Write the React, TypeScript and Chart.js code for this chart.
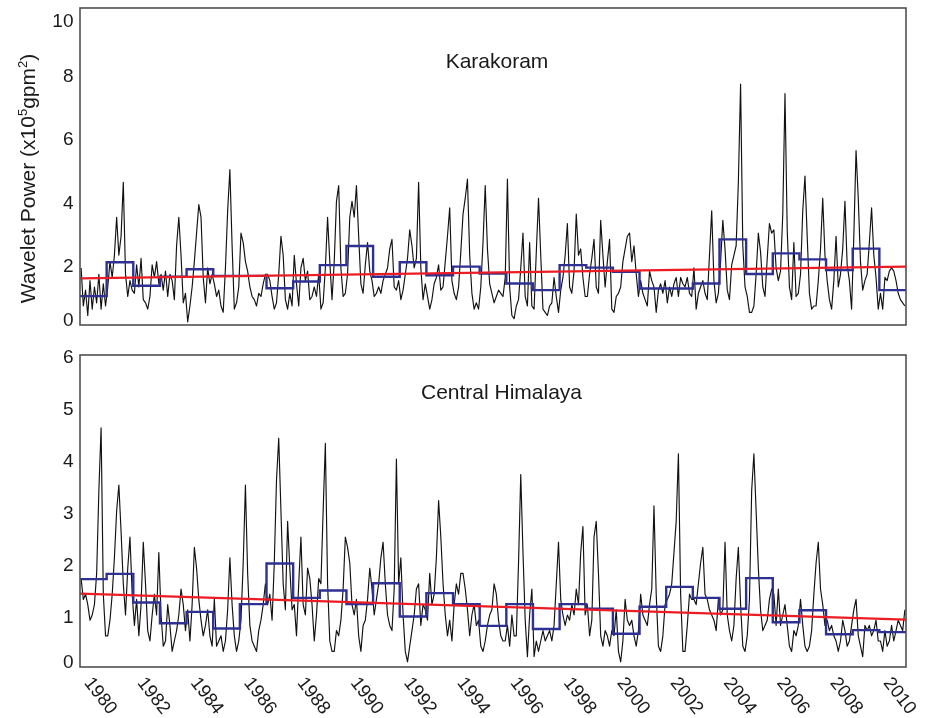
import React, { useEffect, useRef } from "react";
import { Chart, registerables } from "chart.js";

Chart.register(...registerables);

const FONT = "'Liberation Sans', Arial, Helvetica, sans-serif";

// ---------- data ----------
const YEARS = [
  1980, 1981, 1982, 1983, 1984, 1985, 1986, 1987, 1988, 1989, 1990,
  1991, 1992, 1993, 1994, 1995, 1996, 1997, 1998, 1999, 2000,
  2001, 2002, 2003, 2004, 2005, 2006, 2007, 2008, 2009, 2010,
];
const X_TICK_YEARS = [1980, 1982, 1984, 1986, 1988, 1990, 1992, 1994, 1996, 1998, 2000, 2002, 2004, 2006, 2008, 2010];
const X_TICK_LABELS = ["1980", "1982", "1984", "1986", "1988", "1990", "1992", "1994", "1996", "1998", "2000", "2002", "2004", "2006", "2008", "2010"];
const KARAKORAM_Y_TICKS = [0, 2, 4, 6, 8, 10];
const HIMALAYA_Y_TICKS = [0, 1, 2, 3, 4, 5, 6];
const TREND_YEARS = [1980, 2011];

// monthly wavelet power, one row per year (Jan..Dec)
const KARAKORAM_MONTHLY = [
  [1.8, 0.6, 1.1, 0.3, 1.4, 0.5, 1.2, 0.7, 1.6, 0.5, 1.3, 0.6],
  [1.2, 2.0, 1.5, 2.2, 3.4, 2.2, 2.8, 4.5, 1.6, 0.9, 1.4, 1.1],
  [1.0, 1.9, 1.2, 2.1, 0.8, 0.7, 0.5, 0.9, 1.9, 1.5, 2.0, 1.3],
  [1.6, 1.1, 1.7, 0.9, 1.6, 1.4, 0.8, 2.5, 3.4, 2.2, 0.7, 1.0],
  [0.1, 0.6, 1.2, 2.0, 2.9, 3.8, 3.4, 1.5, 0.7, 1.8, 1.3, 1.6],
  [1.3, 0.9, 1.1, 0.6, 0.4, 1.8, 3.6, 4.9, 2.5, 0.5, 0.7, 1.2],
  [2.9, 2.6, 2.0, 1.7, 1.2, 0.9, 0.8, 0.6, 1.0, 0.9, 1.3, 1.6],
  [1.6, 1.4, 0.9, 0.5, 0.7, 1.6, 2.8, 2.2, 0.8, 0.5, 1.0, 0.6],
  [2.2, 1.3, 0.6, 1.8, 2.1, 1.4, 1.7, 0.8, 0.9, 1.2, 0.9, 1.6],
  [0.5, 0.7, 1.8, 3.4, 2.0, 0.8, 2.0, 3.9, 4.4, 1.8, 0.9, 1.0],
  [1.6, 3.4, 3.9, 3.4, 4.4, 2.8, 1.3, 1.0, 1.9, 2.6, 1.7, 1.4],
  [0.9, 1.0, 1.2, 1.0, 1.4, 1.6, 1.8, 2.4, 2.7, 1.2, 1.1, 1.4],
  [0.8, 1.1, 1.6, 2.1, 3.0, 2.5, 1.8, 2.1, 4.5, 1.8, 0.8, 1.3],
  [0.9, 0.5, 0.8, 1.3, 1.5, 1.9, 1.1, 1.2, 2.0, 2.8, 3.7, 1.4],
  [1.0, 0.8, 1.2, 2.3, 3.5, 4.0, 4.6, 2.2, 1.0, 0.5, 0.7, 0.5],
  [1.2, 2.6, 4.4, 2.4, 1.3, 1.0, 0.7, 0.9, 1.1, 1.0, 0.9, 1.5],
  [4.6, 1.2, 0.3, 0.2, 0.6, 0.8, 1.8, 2.9, 0.9, 0.6, 2.6, 0.6],
  [0.5, 2.3, 4.0, 2.2, 0.5, 0.4, 0.3, 0.6, 0.7, 1.5, 0.9, 0.4],
  [1.1, 1.5, 2.2, 3.2, 1.2, 1.0, 1.7, 3.5, 2.2, 2.4, 1.5, 0.9],
  [0.9, 1.6, 2.1, 2.7, 1.2, 1.0, 3.3, 2.2, 1.2, 2.0, 2.7, 0.5],
  [0.4, 0.9, 1.0, 1.2, 2.0, 2.4, 2.8, 2.9, 2.0, 2.5, 1.6, 0.9],
  [1.4, 1.0, 0.8, 0.6, 1.7, 1.4, 1.2, 0.4, 1.1, 1.3, 1.0, 1.4],
  [0.7, 1.2, 0.9, 1.3, 1.5, 0.9, 1.5, 1.3, 1.2, 1.5, 1.0, 0.9],
  [1.8, 0.5, 1.0, 1.2, 1.4, 1.0, 0.8, 2.2, 3.6, 1.4, 0.7, 1.0],
  [2.0, 3.3, 2.4, 1.1, 0.8, 1.9, 2.2, 2.5, 4.5, 7.6, 2.5, 1.2],
  [0.9, 0.4, 0.4, 0.6, 1.6, 2.9, 2.3, 1.2, 0.9, 2.1, 3.2, 2.9],
  [3.0, 1.8, 1.4, 1.7, 3.5, 7.3, 3.0, 1.2, 0.8, 2.6, 0.9, 1.0],
  [1.6, 3.6, 4.7, 2.8, 1.0, 0.5, 0.6, 0.6, 1.4, 2.4, 4.0, 2.2],
  [1.4, 0.8, 0.5, 1.4, 2.8, 1.2, 1.6, 2.4, 3.9, 1.9, 1.4, 0.5],
  [2.8, 5.5, 4.0, 2.0, 1.1, 1.4, 1.6, 2.6, 3.7, 2.2, 1.5, 0.5],
  [1.0, 0.5, 1.5, 1.4, 1.7, 1.8, 1.7, 1.4, 1.0, 0.8, 0.7, 0.6],
];
const KARAKORAM_ANNUAL = [
  0.91, 1.98, 1.24, 1.52, 1.76, 1.55, 1.55, 1.16, 1.37, 1.89, 2.49,
  1.52, 1.98, 1.57, 1.84, 1.62, 1.31, 1.10, 1.89, 1.81, 1.68,
  1.15, 1.15, 1.31, 2.70, 1.61, 2.26, 2.07, 1.73, 2.41, 1.10,
];
const KARAKORAM_TREND = [1.47, 1.84];

const HIMALAYA_MONTHLY = [
  [1.7, 1.3, 1.4, 1.2, 0.9, 1.0, 1.2, 1.8, 3.4, 4.6, 1.4, 0.6],
  [0.6, 0.9, 1.4, 2.1, 3.0, 3.5, 2.6, 1.6, 1.0, 1.9, 2.5, 1.4],
  [0.8, 1.3, 0.6, 1.2, 2.4, 1.6, 0.7, 0.5, 1.0, 1.4, 1.0, 2.2],
  [1.0, 0.4, 0.5, 1.2, 0.8, 0.3, 0.5, 0.7, 1.0, 1.5, 1.2, 0.7],
  [1.1, 0.5, 1.2, 2.3, 1.9, 1.3, 0.9, 0.6, 0.8, 1.1, 0.6, 0.4],
  [1.3, 0.4, 0.5, 0.6, 0.3, 0.5, 1.1, 2.1, 1.2, 0.6, 0.3, 0.5],
  [0.9, 2.0, 3.5, 1.8, 0.8, 0.5, 0.4, 0.3, 0.7, 0.9, 1.2, 1.6],
  [1.2, 1.4, 0.9, 2.0, 3.6, 4.4, 3.0, 1.6, 1.1, 2.8, 1.9, 1.1],
  [1.2, 0.6, 1.6, 2.5, 1.2, 1.0, 1.9, 1.7, 1.2, 0.5, 1.0, 1.7],
  [1.6, 3.0, 4.3, 1.6, 0.5, 0.3, 0.3, 0.7, 0.6, 0.9, 1.5, 2.5],
  [2.3, 2.0, 1.2, 1.0, 1.3, 0.6, 0.3, 0.8, 0.9, 1.3, 1.9, 1.5],
  [1.0, 1.3, 1.6, 2.1, 2.4, 1.6, 1.0, 0.8, 0.7, 1.5, 4.0, 1.6],
  [2.1, 1.0, 0.3, 0.1, 0.4, 0.7, 1.0, 1.5, 1.6, 0.8, 1.2, 1.1],
  [0.9, 1.8, 1.2, 1.4, 2.1, 3.2, 2.5, 1.6, 1.0, 0.6, 0.9, 0.5],
  [1.2, 1.6, 1.4, 1.8, 1.8, 1.5, 1.1, 0.6, 1.0, 1.2, 0.8, 0.9],
  [0.4, 0.3, 0.5, 0.8, 1.0, 1.1, 1.6, 1.4, 0.9, 0.6, 0.5, 0.5],
  [0.8, 0.4, 1.0, 0.6, 0.6, 2.0, 3.7, 2.2, 0.9, 0.2, 1.0, 1.5],
  [0.2, 0.5, 0.3, 0.5, 0.7, 0.5, 0.6, 0.7, 0.5, 0.8, 1.6, 2.4],
  [1.3, 1.0, 0.8, 1.0, 0.9, 1.2, 1.0, 1.5, 1.2, 2.2, 2.7, 1.0],
  [1.2, 0.6, 0.9, 2.5, 2.8, 1.8, 0.6, 0.4, 0.7, 0.6, 0.4, 0.7],
  [0.6, 1.1, 0.3, 0.1, 0.5, 1.3, 0.9, 0.8, 0.9, 0.6, 0.4, 0.7],
  [1.4, 1.0, 0.9, 0.8, 1.2, 1.5, 3.1, 1.4, 0.4, 0.3, 0.6, 1.2],
  [1.3, 1.4, 1.6, 2.2, 2.8, 4.1, 1.4, 0.3, 0.3, 0.8, 1.4, 1.3],
  [1.3, 1.2, 1.6, 2.0, 2.3, 1.4, 1.3, 1.1, 1.0, 0.9, 0.7, 1.3],
  [1.0, 1.1, 2.4, 1.0, 0.7, 0.5, 0.8, 1.7, 2.3, 1.2, 0.4, 0.3],
  [0.6, 1.3, 3.4, 4.1, 3.0, 1.9, 1.1, 0.7, 0.8, 0.9, 1.3, 1.5],
  [1.4, 0.8, 1.5, 0.8, 1.0, 1.2, 0.8, 0.4, 0.3, 0.7, 0.6, 0.8],
  [1.3, 0.8, 0.4, 0.3, 0.4, 0.7, 1.4, 2.0, 2.4, 1.5, 1.2, 0.8],
  [0.9, 0.7, 0.8, 0.6, 0.5, 0.3, 0.5, 0.9, 0.7, 0.4, 0.5, 0.8],
  [1.1, 1.3, 0.6, 0.4, 0.2, 0.8, 0.7, 0.8, 0.6, 0.7, 0.9, 0.5],
  [0.5, 0.3, 0.7, 0.4, 0.5, 0.8, 0.5, 0.7, 0.9, 0.8, 0.7, 1.1],
];
const HIMALAYA_ANNUAL = [
  1.69, 1.79, 1.24, 0.84, 1.06, 0.74, 1.21, 1.99, 1.33, 1.47, 1.21,
  1.61, 0.97, 1.42, 1.21, 0.79, 1.21, 0.73, 1.21, 1.12, 0.64,
  1.16, 1.54, 1.33, 1.12, 1.71, 0.86, 1.09, 0.63, 0.71, 0.67,
];
const HIMALAYA_TREND = [1.41, 0.91];

// ---------- styling ----------
const BLACK = "#111111";
const BLUE = "#2e3192";
const RED = "#ec1c24";
const FRAME = "#505050";

function monthlyPoints(rows: number[][]) {
  const pts: { x: number; y: number }[] = [];
  rows.forEach((row, i) =>
    row.forEach((v, m) => pts.push({ x: YEARS[i] + (m + 0.5) / 12, y: v }))
  );
  return pts;
}
function annualSteps(vals: number[]) {
  const pts = vals.map((v, i) => ({ x: YEARS[i], y: v }));
  pts.push({ x: YEARS[YEARS.length - 1] + 1, y: vals[vals.length - 1] });
  return pts;
}
function trendPoints(vals: number[]) {
  return vals.map((v, i) => ({ x: TREND_YEARS[i], y: v }));
}

type PanelOpts = {
  title: string;
  titleDx: number;
  titleBaseline: number;
  yTicks: number[];
  labelDy: number;
  labelMinTop: number;
  labelMaxBottom: number;
  yTitle?: boolean;
  xLabels?: boolean;
};

function decorPlugin(o: PanelOpts) {
  return {
    id: "panelDecor",
    afterDatasetsDraw(chart: any) {
      const { ctx, chartArea: a, scales } = chart;
      ctx.save();
      // frame
      ctx.strokeStyle = FRAME;
      ctx.lineWidth = 1.6;
      ctx.strokeRect(a.left, a.top, a.right - a.left, a.bottom - a.top);

      // y tick labels
      ctx.fillStyle = "#1a1a1a";
      ctx.font = `19px ${FONT}`;
      ctx.textAlign = "right";
      ctx.textBaseline = "alphabetic";
      o.yTicks.forEach((v) => {
        let y = scales.y.getPixelForValue(v) + o.labelDy;
        y = Math.max(a.top + o.labelMinTop, Math.min(a.bottom + o.labelMaxBottom, y));
        ctx.fillText(String(v), a.left - 6.5, y);
      });

      // panel title
      ctx.font = `21px ${FONT}`;
      ctx.textAlign = "center";
      ctx.fillText(o.title, (a.left + a.right) / 2 + o.titleDx, a.top + o.titleBaseline);

      // x tick labels (rotated clockwise)
      if (o.xLabels) {
        ctx.font = `18.5px ${FONT}`;
        ctx.textAlign = "left";
        ctx.textBaseline = "alphabetic";
        X_TICK_YEARS.forEach((yr, i) => {
          const x = scales.x.getPixelForValue(yr);
          ctx.save();
          ctx.translate(x + 3.5, a.bottom + 16);
          ctx.rotate((52 * Math.PI) / 180);
          ctx.fillText(X_TICK_LABELS[i], 0, 0);
          ctx.restore();
        });
      }

      // y axis title with superscripts
      if (o.yTitle) {
        const parts = [
          { t: "Wavelet Power (x10", sup: false },
          { t: "5", sup: true },
          { t: "gpm", sup: false },
          { t: "2", sup: true },
          { t: ")", sup: false },
        ];
        const big = `21px ${FONT}`;
        const small = `13px ${FONT}`;
        let total = 0;
        parts.forEach((p) => {
          ctx.font = p.sup ? small : big;
          total += ctx.measureText(p.t).width;
        });
        ctx.save();
        ctx.translate(35, (a.top + a.bottom) / 2 + 12);
        ctx.rotate(-Math.PI / 2);
        ctx.textAlign = "left";
        ctx.textBaseline = "alphabetic";
        let x = -total / 2;
        parts.forEach((p) => {
          ctx.font = p.sup ? small : big;
          ctx.fillText(p.t, x, p.sup ? -8 : 0);
          x += ctx.measureText(p.t).width;
        });
        ctx.restore();
      }
      ctx.restore();
    },
  };
}

function makeChart(
  canvas: HTMLCanvasElement,
  monthly: number[][],
  annual: number[],
  trend: number[],
  yMax: number,
  padding: { top: number; bottom: number },
  opts: PanelOpts
) {
  return new Chart(canvas, {
    type: "line",
    data: {
      datasets: [
        {
          label: "trend",
          data: trendPoints(trend),
          borderColor: RED,
          borderWidth: 2.3,
          pointRadius: 0,
          order: 0,
        },
        {
          label: "annual",
          data: annualSteps(annual),
          stepped: true,
          borderColor: BLUE,
          borderWidth: 2.4,
          pointRadius: 0,
          order: 1,
        },
        {
          label: "monthly",
          data: monthlyPoints(monthly),
          borderColor: BLACK,
          borderWidth: 1.15,
          borderJoinStyle: "round",
          pointRadius: 0,
          tension: 0,
          order: 2,
        },
      ],
    } as any,
    options: {
      responsive: false,
      animation: false,
      events: [],
      layout: { padding: { top: padding.top, right: 28, bottom: padding.bottom, left: 0 } },
      plugins: {
        legend: { display: false },
        tooltip: { enabled: false },
        title: { display: false },
      },
      scales: {
        x: { type: "linear", min: 1980, max: 2011, display: false },
        y: {
          type: "linear",
          min: 0,
          max: yMax,
          ticks: { display: false },
          grid: { display: false, drawTicks: false },
          border: { display: false },
          afterFit: (s: any) => {
            s.width = 80;
          },
        },
      },
    } as any,
    plugins: [decorPlugin(opts)],
  });
}

export default function App() {
  const topRef = useRef<HTMLCanvasElement>(null);
  const botRef = useRef<HTMLCanvasElement>(null);

  useEffect(() => {
    const c1 = makeChart(
      topRef.current!,
      KARAKORAM_MONTHLY,
      KARAKORAM_ANNUAL,
      KARAKORAM_TREND,
      10,
      { top: 8, bottom: 15 },
      {
        title: "Karakoram",
        titleDx: 4,
        titleBaseline: 60,
        yTicks: KARAKORAM_Y_TICKS,
        labelDy: 10.3,
        labelMinTop: 18.7,
        labelMaxBottom: 1,
        yTitle: true,
      }
    );
    const c2 = makeChart(
      botRef.current!,
      HIMALAYA_MONTHLY,
      HIMALAYA_ANNUAL,
      HIMALAYA_TREND,
      6,
      { top: 15, bottom: 51 },
      {
        title: "Central Himalaya",
        titleDx: 8.5,
        titleBaseline: 44,
        yTicks: HIMALAYA_Y_TICKS,
        labelDy: 8,
        labelMinTop: 8,
        labelMaxBottom: 1.3,
        xLabels: true,
      }
    );
    return () => {
      c1.destroy();
      c2.destroy();
    };
  }, []);

  return (
    <div style={{ position: "absolute", left: 0, top: 0, width: 934, height: 718, background: "#fff" }}>
      <canvas ref={topRef} width={934} height={340} style={{ position: "absolute", left: 0, top: 0 }} />
      <canvas ref={botRef} width={934} height={378} style={{ position: "absolute", left: 0, top: 340 }} />
    </div>
  );
}
